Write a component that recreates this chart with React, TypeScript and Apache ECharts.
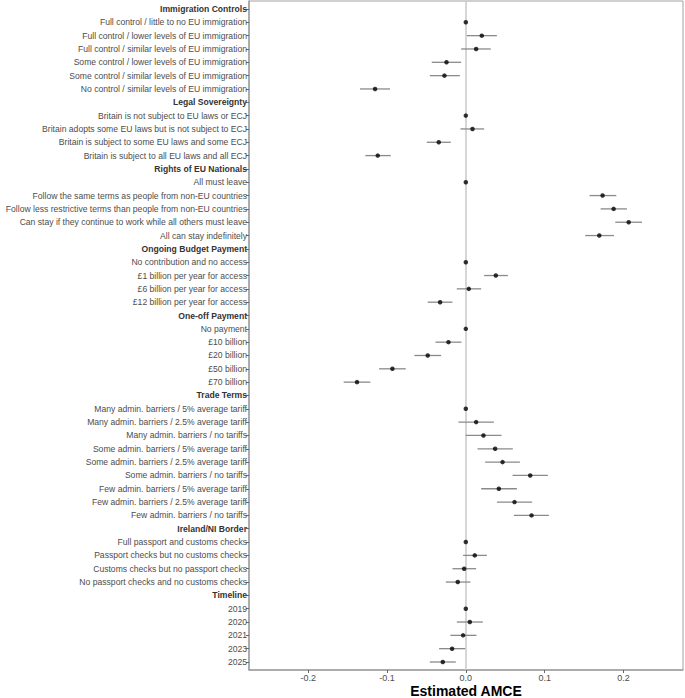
import React, { useEffect, useRef } from "react";
import * as echarts from "echarts";

const rowLabels = [
  "Immigration Controls",
  "Full control / little to no EU immigration",
  "Full control / lower levels of EU immigration",
  "Full control / similar levels of EU immigration",
  "Some control / lower levels of EU immigration",
  "Some control / similar levels of EU immigration",
  "No control / similar levels of EU immigration",
  "Legal Sovereignty",
  "Britain is not subject to EU laws or ECJ",
  "Britain adopts some EU laws but is not subject to ECJ",
  "Britain is subject to some EU laws and some ECJ",
  "Britain is subject to all EU laws and all ECJ",
  "Rights of EU Nationals",
  "All must leave",
  "Follow the same terms as people from non-EU countries",
  "Follow less restrictive terms than people from non-EU countries",
  "Can stay if they continue to work while all others must leave",
  "All can stay indefinitely",
  "Ongoing Budget Payment",
  "No contribution and no access",
  "£1 billion per year for access",
  "£6 billion per year for access",
  "£12 billion per year for access",
  "One-off Payment",
  "No payment",
  "£10 billion",
  "£20 billion",
  "£50 billion",
  "£70 billion",
  "Trade Terms",
  "Many admin. barriers / 5% average tariff",
  "Many admin. barriers / 2.5% average tariff",
  "Many admin. barriers / no tariffs",
  "Some admin. barriers / 5% average tariff",
  "Some admin. barriers / 2.5% average tariff",
  "Some admin. barriers / no tariffs",
  "Few admin. barriers / 5% average tariff",
  "Few admin. barriers / 2.5% average tariff",
  "Few admin. barriers / no tariffs",
  "Ireland/NI Border",
  "Full passport and customs checks",
  "Passport checks but no customs checks",
  "Customs checks but no passport checks",
  "No passport checks and no customs checks",
  "Timeline",
  "2019",
  "2020",
  "2021",
  "2023",
  "2025",
];

const headerRows = [
  "Immigration Controls",
  "Legal Sovereignty",
  "Rights of EU Nationals",
  "Ongoing Budget Payment",
  "One-off Payment",
  "Trade Terms",
  "Ireland/NI Border",
  "Timeline",
];

// null = header row (no estimate)
const estimates: (number | null)[] = [
  null, 0, 0.0203, 0.0131, -0.0245, -0.0271, -0.1151,
  null, 0, 0.0085, -0.0343, -0.1117,
  null, 0, 0.1735, 0.1875, 0.2066, 0.1693,
  null, 0, 0.0381, 0.0038, -0.0326,
  null, 0, -0.022, -0.0483, -0.0931, -0.138,
  null, 0, 0.0131, 0.0224, 0.0372, 0.0466, 0.0817, 0.0419, 0.0618, 0.0834,
  null, 0, 0.0114, -0.0021, -0.0102,
  null, 0, 0.0051, -0.0034, -0.0174, -0.0292,
];

// null = no interval (header or reference level)
const lowerCI: (number | null)[] = [
  null, null, 0.0013, -0.0059, -0.0432, -0.0457, -0.1342,
  null, null, -0.0068, -0.0495, -0.1274,
  null, null, 0.157, 0.171, 0.1896, 0.1515,
  null, null, 0.0233, -0.0114, -0.0483,
  null, null, -0.0385, -0.0652, -0.11, -0.1549,
  null, null, -0.0093, 0.0, 0.0148, 0.0245, 0.0593, 0.0195, 0.0394, 0.061,
  null, null, -0.0034, -0.0169, -0.0254,
  null, null, -0.0114, -0.0195, -0.0339, -0.0457,
];

const upperCI: (number | null)[] = [
  null, null, 0.0394, 0.0317, -0.0059, -0.0076, -0.0961,
  null, null, 0.0233, -0.019, -0.0952,
  null, null, 0.1909, 0.2044, 0.2235, 0.1879,
  null, null, 0.0533, 0.0195, -0.0169,
  null, null, -0.0055, -0.0313, -0.0762, -0.1211,
  null, null, 0.0356, 0.0453, 0.0597, 0.0686, 0.1041, 0.0648, 0.0842, 0.1054,
  null, null, 0.0267, 0.0131, 0.0059,
  null, null, 0.0216, 0.0135, -0.0008, -0.0127,
];

const xTicks = [-0.2, -0.1, 0, 0.1, 0.2];
const xTitle = "Estimated AMCE";

const FONT = "'Liberation Sans', Arial, Helvetica, sans-serif";

export default function App() {
  const ref = useRef<HTMLDivElement>(null);

  useEffect(() => {
    if (!ref.current) return;
    const chart = echarts.init(ref.current, undefined, { renderer: "svg" });

    const rowIdx = rowLabels.map((_, i) => i);
    const pointData = rowIdx
      .filter((i) => estimates[i] !== null)
      .map((i) => [estimates[i] as number, i]);
    const ciData = rowIdx
      .filter((i) => lowerCI[i] !== null && upperCI[i] !== null)
      .map((i) => [lowerCI[i] as number, upperCI[i] as number, i]);

    chart.setOption({
      animation: false,
      backgroundColor: "#ffffff",
      textStyle: { fontFamily: FONT },
      grid: {
        left: 249,
        right: 2,
        top: 1,
        bottom: 28,
        containLabel: false,
        outerBoundsMode: "none",
        show: true,
        borderColor: "#a0a0a0",
        borderWidth: 1,
        backgroundColor: "#ffffff",
      },
      graphic: [
        {
          type: "text",
          x: 466,
          y: 691,
          style: {
            text: xTitle,
            align: "center",
            verticalAlign: "middle",
            fontSize: 14,
            fontWeight: "bold",
            fontFamily: FONT,
            fill: "#000000",
          },
        },
      ],
      xAxis: {
        type: "value",
        min: -0.275,
        max: 0.2755,
        splitLine: { show: false },
        axisLine: { show: true, onZero: false, lineStyle: { color: "#a0a0a0", width: 1.5 } },
        axisTick: {
          show: true,
          length: 3,
          customValues: xTicks,
          lineStyle: { color: "#666666" },
        },
        axisLabel: {
          customValues: xTicks,
          formatter: (v: number) => v.toFixed(1),
          color: "#4d4d4d",
          fontSize: 9,
          margin: 3,
          fontFamily: FONT,
        },
      },
      yAxis: {
        type: "value",
        inverse: true,
        min: -0.6,
        max: rowLabels.length - 1 + 0.6,
        splitLine: { show: false },
        axisLine: { show: true, onZero: false, lineStyle: { color: "#a0a0a0", width: 1.5 } },
        axisTick: {
          show: true,
          length: 3,
          customValues: rowIdx,
          lineStyle: { color: "#666666" },
        },
        axisLabel: {
          customValues: rowIdx,
          margin: 2,
          fontSize: 8.6,
          color: "#4d4d4d",
          fontFamily: FONT,
          formatter: (v: number) => {
            const name = rowLabels[Math.round(v)] ?? "";
            return headerRows.includes(name) ? `{h|${name}}` : name;
          },
          rich: {
            h: {
              fontWeight: "bold",
              color: "#333333",
              fontSize: 8.6,
              fontFamily: FONT,
            },
          },
        },
      },
      series: [
        {
          type: "custom",
          name: "ci",
          silent: true,
          z: 2,
          data: ciData,
          encode: { x: [0, 1], y: 2 },
          renderItem: (_params: any, api: any) => {
            const p1 = api.coord([api.value(0), api.value(2)]);
            const p2 = api.coord([api.value(1), api.value(2)]);
            return {
              type: "line",
              shape: { x1: p1[0], y1: p1[1], x2: p2[0], y2: p2[1] },
              style: { stroke: "#8a8a8a", lineWidth: 1.3 },
            };
          },
          markLine: {
            silent: true,
            symbol: "none",
            label: { show: false },
            lineStyle: { color: "#cccccc", width: 1.6, type: "solid" },
            data: [{ xAxis: 0 }],
            z: 1,
          },
        },
        {
          type: "scatter",
          name: "AMCE",
          symbol: "circle",
          symbolSize: 4.5,
          z: 3,
          itemStyle: { color: "#000000" },
          data: pointData,
        },
      ],
    });

    return () => chart.dispose();
  }, []);

  return (
    <div
      ref={ref}
      style={{ position: "fixed", left: 0, top: 0, width: 685, height: 698 }}
    />
  );
}
